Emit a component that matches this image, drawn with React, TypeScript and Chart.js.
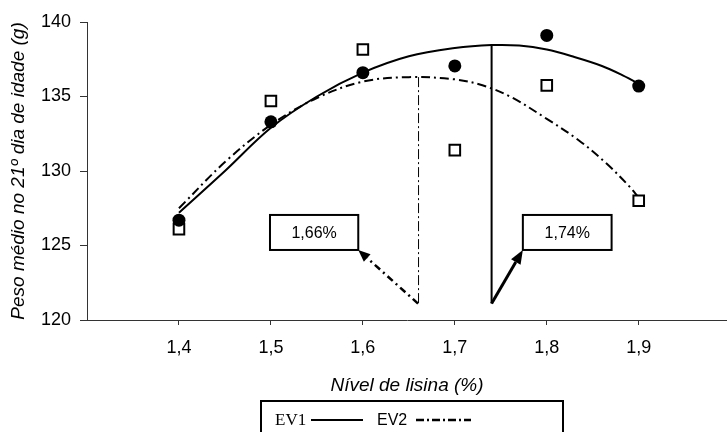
import { useEffect, useRef } from "react";
import { Chart, registerables } from "chart.js";

Chart.register(...registerables);

// Observed mean weights at each lysine level
const levels = [1.4, 1.5, 1.6, 1.7, 1.8, 1.9];
const ev1Weights = [126.7, 133.3, 136.6, 137.05, 139.1, 135.7];
const ev2Weights = [126.1, 134.7, 138.15, 131.4, 135.75, 128.0];

// Fitted response curves
const ev1CurveX = [1.4, 1.45, 1.5, 1.55, 1.6, 1.65, 1.7, 1.74, 1.77, 1.8, 1.83, 1.86, 1.88, 1.9];
const ev1CurveY = [127.2, 130.0, 132.9, 135.0, 136.6, 137.7, 138.25, 138.45, 138.42, 138.15, 137.65, 137.05, 136.5, 135.85];
const ev2CurveX = [1.4, 1.45, 1.5, 1.55, 1.6, 1.65, 1.7, 1.73, 1.76, 1.8, 1.835, 1.865, 1.89, 1.9];
const ev2CurveY = [127.5, 130.6, 133.1, 134.9, 136.0, 136.3, 136.15, 135.75, 135.0, 133.5, 132.05, 130.5, 128.95, 128.2];

// Optimum lysine levels and the weight at each optimum
const optimumLevels = [1.66, 1.74];
const optimumWeights = [136.3, 138.45];
const optimumLabels = ["1,66%", "1,74%"];

const xTicks = [1.4, 1.5, 1.6, 1.7, 1.8, 1.9];
const yTicks = [120, 125, 130, 135, 140];

const SANS = '"Liberation Sans", Arial, sans-serif';
const SERIF = '"Liberation Serif", "Times New Roman", serif';

function drawArrow(
  ctx: CanvasRenderingContext2D,
  x0: number, y0: number, x1: number, y1: number,
  headLen: number, headWidth: number, width: number, dash: number[]
) {
  const ang = Math.atan2(y1 - y0, x1 - x0);
  const bx = x1 - headLen * Math.cos(ang);
  const by = y1 - headLen * Math.sin(ang);
  ctx.lineWidth = width;
  ctx.setLineDash(dash);
  ctx.beginPath();
  ctx.moveTo(x0, y0);
  ctx.lineTo(bx, by);
  ctx.stroke();
  ctx.setLineDash([]);
  const hx = (headWidth / 2) * Math.sin(ang);
  const hy = (headWidth / 2) * Math.cos(ang);
  ctx.beginPath();
  ctx.moveTo(x1, y1);
  ctx.lineTo(bx + hx, by - hy);
  ctx.lineTo(bx - hx, by + hy);
  ctx.closePath();
  ctx.fill();
}

// Vertical optimum lines, callout boxes and their arrows
const optimumPlugin = {
  id: "optimumMarks",
  afterDatasetsDraw(chart: any) {
    const { ctx } = chart;
    const xs = chart.scales.x;
    const ys = chart.scales.y;
    const px = (v: number) => xs.getPixelForValue(v);
    const py = (v: number) => ys.getPixelForValue(v);
    const baseWeight = 121.1;
    const boxes = [
      { x1: 1.499, x2: 1.595, yTop: 127.05, yBot: 124.7, corner: "right" },
      { x1: 1.774, x2: 1.8705, yTop: 127.05, yBot: 124.7, corner: "left" },
    ];
    ctx.save();
    ctx.strokeStyle = "#000";
    ctx.fillStyle = "#000";

    // EV2 optimum: thin dash-dot vertical
    ctx.lineWidth = 1;
    ctx.setLineDash([10, 3, 2, 3]);
    ctx.beginPath();
    ctx.moveTo(px(optimumLevels[0]) + 0.5, py(optimumWeights[0]));
    ctx.lineTo(px(optimumLevels[0]) + 0.5, py(baseWeight));
    ctx.stroke();

    // EV1 optimum: solid vertical
    ctx.setLineDash([]);
    ctx.lineWidth = 2;
    ctx.beginPath();
    ctx.moveTo(px(optimumLevels[1]), py(optimumWeights[1]));
    ctx.lineTo(px(optimumLevels[1]), py(baseWeight));
    ctx.stroke();

    boxes.forEach((b, i) => {
      const left = px(b.x1);
      const right = px(b.x2);
      const top = py(b.yTop);
      const bottom = py(b.yBot);
      ctx.setLineDash([]);
      ctx.fillStyle = "#fff";
      ctx.fillRect(left, top, right - left, bottom - top);
      ctx.lineWidth = 2;
      ctx.strokeStyle = "#000";
      ctx.strokeRect(left, top, right - left, bottom - top);
      ctx.fillStyle = "#000";
      ctx.font = `16px ${SANS}`;
      ctx.textAlign = "center";
      ctx.textBaseline = "middle";
      ctx.fillText(optimumLabels[i], (left + right) / 2, (top + bottom) / 2 + 1);

      const tipX = b.corner === "right" ? right : left;
      const startX = px(optimumLevels[i]);
      const startY = py(baseWeight);
      if (i === 0) {
        drawArrow(ctx, startX, startY, tipX, bottom, 12, 10, 2.5, [7, 4, 2, 4]);
      } else {
        drawArrow(ctx, startX, startY, tipX, bottom, 14, 11, 3, []);
      }
    });
    ctx.restore();
  },
};

// Framed legend at the foot of the chart
const legendPlugin = {
  id: "framedLegend",
  afterDraw(chart: any) {
    const { ctx } = chart;
    const midY = 420;
    ctx.save();
    ctx.strokeStyle = "#000";
    ctx.lineWidth = 2;
    ctx.strokeRect(261, 401, 302, 45);
    ctx.fillStyle = "#000";
    ctx.textBaseline = "middle";
    ctx.textAlign = "left";
    ctx.font = `17px ${SERIF}`;
    ctx.fillText("EV1", 275, midY + 1);
    ctx.beginPath();
    ctx.moveTo(311, midY);
    ctx.lineTo(363, midY);
    ctx.stroke();
    ctx.font = `16px ${SANS}`;
    ctx.fillText("EV2", 377, midY + 1);
    ctx.lineWidth = 2.5;
    ctx.setLineDash([8, 3, 2, 3]);
    ctx.beginPath();
    ctx.moveTo(416, midY);
    ctx.lineTo(471, midY);
    ctx.stroke();
    ctx.restore();
  },
};

export default function App() {
  const canvasRef = useRef<HTMLCanvasElement | null>(null);

  useEffect(() => {
    if (!canvasRef.current) return;
    const toPoints = (xs: number[], ys: number[]) => xs.map((x, i) => ({ x, y: ys[i] }));
    const chart = new Chart(canvasRef.current, {
      type: "line",
      data: {
        datasets: [
          {
            label: "EV1",
            data: toPoints(levels, ev1Weights),
            showLine: false,
            pointStyle: "circle",
            pointRadius: 6.5,
            pointBackgroundColor: "#000",
            pointBorderColor: "#000",
            pointBorderWidth: 0,
          },
          {
            label: "EV2",
            data: toPoints(levels, ev2Weights),
            showLine: false,
            pointStyle: "rect",
            pointRadius: 7.5,
            pointBackgroundColor: "#fff",
            pointBorderColor: "#000",
            pointBorderWidth: 2,
          },
          {
            label: "EV1 ajuste",
            data: toPoints(ev1CurveX, ev1CurveY),
            borderColor: "#000",
            borderWidth: 2,
            pointRadius: 0,
            tension: 0.35,
            fill: false,
          },
          {
            label: "EV2 ajuste",
            data: toPoints(ev2CurveX, ev2CurveY),
            borderColor: "#000",
            borderWidth: 2,
            borderDash: [9, 4, 2, 4],
            pointRadius: 0,
            tension: 0.35,
            fill: false,
          },
        ],
      },
      options: {
        responsive: false,
        maintainAspectRatio: false,
        devicePixelRatio: 1,
        animation: false,
        events: [],
        layout: { autoPadding: false, padding: { top: 22, left: 0, right: 0, bottom: 0 } },
        plugins: {
          legend: { display: false },
          tooltip: { enabled: false },
        },
        scales: {
          x: {
            type: "linear",
            min: 1.3,
            max: 1.996,
            afterBuildTicks: (scale: any) => {
              scale.ticks = xTicks.map((v) => ({ value: v }));
            },
            afterFit: (scale: any) => {
              scale.height = 112;
              scale.paddingLeft = 0;
              scale.paddingRight = 0;
            },
            border: { display: true, color: "#333", width: 1 },
            grid: { drawOnChartArea: false, drawTicks: true, tickLength: 5, color: "#333" },
            ticks: {
              color: "#000",
              font: { family: SANS, size: 18 },
              padding: 12,
              autoSkip: false,
              maxRotation: 0,
              callback: (v: any) => Number(v).toFixed(1).replace(".", ","),
            },
            title: {
              display: true,
              text: "Nível de lisina (%)",
              color: "#000",
              font: { family: SANS, size: 19, style: "italic" },
              padding: { top: 0, bottom: 35 },
            },
          },
          y: {
            type: "linear",
            min: 120,
            max: 140,
            afterBuildTicks: (scale: any) => {
              scale.ticks = yTicks.map((v) => ({ value: v }));
            },
            afterFit: (scale: any) => {
              scale.width = 87;
            },
            border: { display: true, color: "#333", width: 1 },
            grid: { drawOnChartArea: false, drawTicks: true, tickLength: 7, color: "#333" },
            ticks: {
              color: "#000",
              font: { family: SANS, size: 18 },
              padding: 9,
            },
            title: {
              display: true,
              text: "Peso médio no 21º dia de idade (g)",
              color: "#000",
              font: { family: SANS, size: 19, style: "italic" },
              padding: { top: 7, bottom: 0 },
            },
          },
        },
      },
      plugins: [optimumPlugin, legendPlugin],
    } as any);
    return () => chart.destroy();
  }, []);

  return (
    <div style={{ position: "fixed", left: 0, top: 0, width: 727, height: 432, background: "#fff" }}>
      <canvas ref={canvasRef} width={727} height={432} style={{ display: "block" }} />
    </div>
  );
}
